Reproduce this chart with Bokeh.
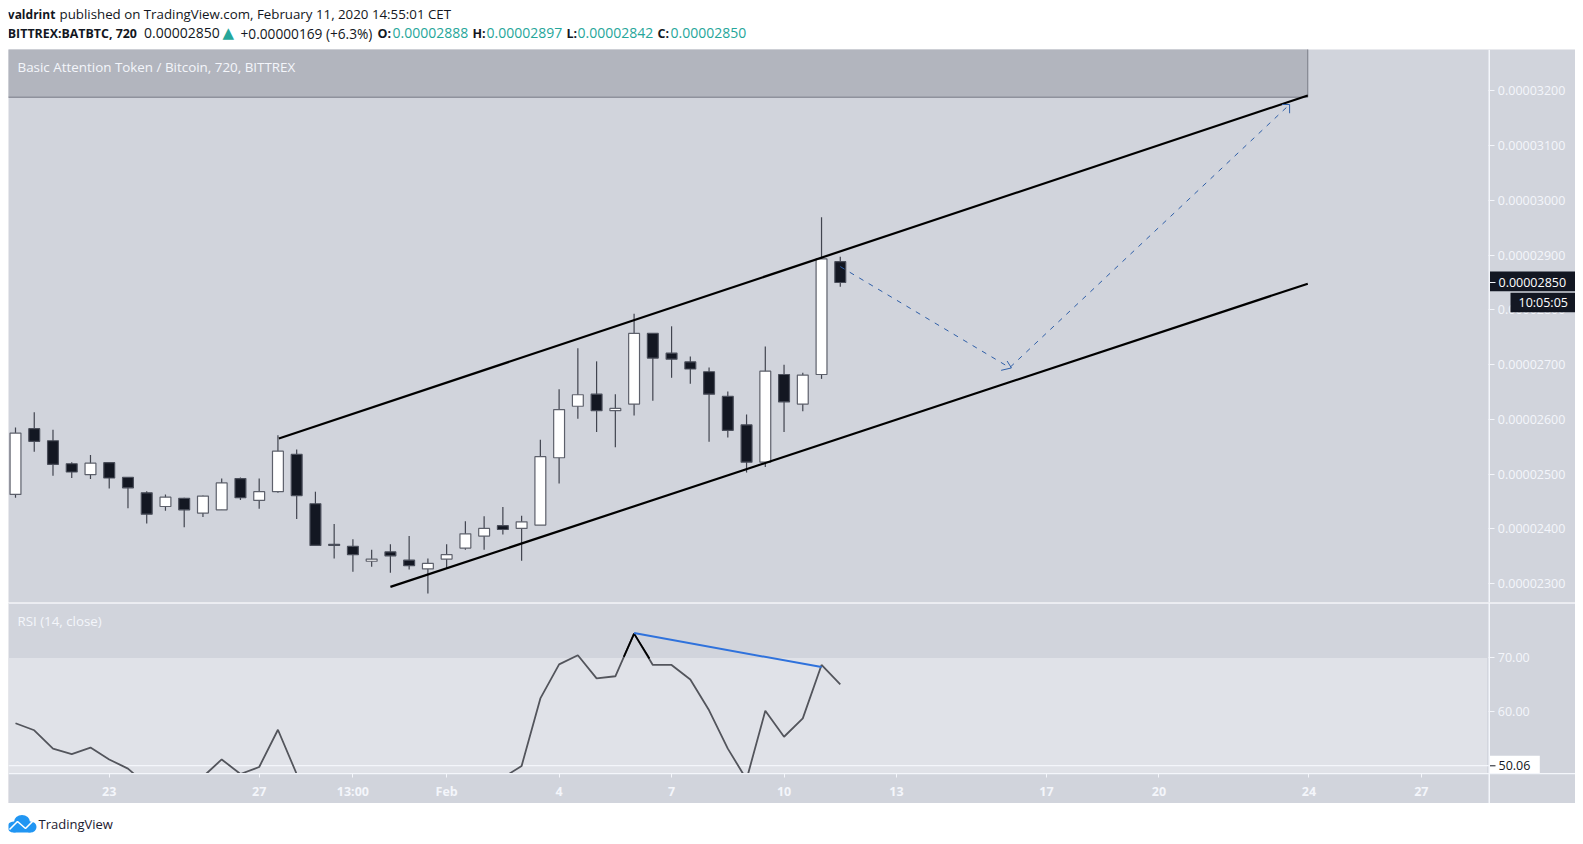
from bokeh.embed import file_html
from bokeh.resources import INLINE
from bokeh.layouts import column
from bokeh.models import BoxAnnotation, Label, FixedTicker, PrintfTickFormatter, Range1d, LinearAxis
from bokeh.plotting import figure
import numpy as np

BG = "#d1d4dc"
WHITE = "#f4f6fb"
FONT = "Open Sans"

# ---- candles (price in 1e-8 BTC) ----
opens = [2463,2583,2561,2519,2499,2521,2494,2466,2441,2456,2429,2435,2492,2452,2468,2536,2446,2372,2368,2341,2358,2343,2327,2345,2365,2387,2406,2401,2407,2530,2624,2646,2616,2628,2757,2721,2705,2687,2642,2590,2522,2682,2628,2682,2888]
highs = [2585,2613,2581,2522,2535,2521,2494,2469,2463,2457,2461,2492,2494,2492,2571,2545,2468,2409,2381,2362,2372,2387,2346,2372,2414,2423,2440,2424,2563,2655,2730,2706,2646,2793,2757,2770,2715,2695,2651,2609,2733,2700,2685,2969,2897]
lows = [2457,2541,2497,2493,2491,2474,2438,2410,2433,2403,2422,2435,2453,2437,2466,2418,2369,2346,2322,2331,2320,2326,2282,2328,2362,2362,2390,2342,2407,2483,2601,2577,2549,2607,2634,2676,2665,2559,2567,2503,2513,2577,2615,2674,2842]
closes = [2575,2560,2518,2504,2520,2493,2475,2427,2458,2435,2460,2484,2457,2468,2542,2461,2370,2370,2353,2345,2351,2333,2337,2353,2391,2401,2399,2413,2532,2618,2645,2616,2620,2757,2712,2710,2692,2646,2580,2522,2688,2632,2681,2893,2850]

# ---- RSI ----
rsi = [57.9,56.6,53.2,52.2,53.4,51.2,49.5,46.5,45.5,46.0,48.0,51.2,48.5,49.8,56.7,48.5,41.5,41.0,40.0,40.5,39.5,39.5,39.0,40.0,42.0,43.5,47.8,50.0,62.5,68.8,70.5,66.2,66.6,74.5,68.7,68.7,66.0,60.3,53.2,47.5,60.2,55.4,58.8,68.7,65.1]
rsi_peak_idx = [32.45,33,33.82]
rsi_peak_val = [70.2,74.5,69.9]
rsi_div_idx = [33,43]
rsi_div_val = [74.6,68.3]

# ---- drawings (bar index, price) ----
upper_idx = [14.05,68.94]
upper_px = [2565,3191.4]
lower_idx = [20.0,68.94]
lower_px = [2294.3,2847.8]
path_idx = [44,53.04,67.97]
path_px = [2879,2694.5,3175]
head_idx = [[52.9,53.13,52.58],[67.57,67.97,67.97]]
head_px = [[2706.6,2694,2689.6],[3175,3175,3159]]
zone_idx = [-1,68.94]
zone_px = [3188.3,3400]

# ---- ticks ----
price_ticks = [2300,2400,2500,2600,2700,2800,2900,3000,3100,3200]
rsi_ticks = [60,70]
time_pos = [5,13,18,23,29,35,41,47,55,61,69,75]
time_lab = ["23","27","13:00","Feb","4","7","10","13","17","20","24","27"]

# ---- header ----
head_x = [7.3,59,7.3,143.5,222,240,377,392,472,486,566,577,657,670]
head_y = [13.7,13.7,32.6,32.6,32.2,32.6,32.6,32.6,32.6,32.6,32.6,32.6,32.6,32.6]
head_txt = ["valdrint","published on TradingView.com, February 11, 2020 14:55:01 CET","BITTREX:BATBTC, 720","0.00002850","▲","+0.00000169 (+6.3%)","O:","0.00002888","H:","0.00002897","L:","0.00002842","C:","0.00002850"]
head_bold = [1,0,1,0,0,0,1,0,1,0,1,0,1,0]
head_col = ["#131722","#131722","#131722","#131722","#26a69a","#131722","#131722","#26a69a","#131722","#26a69a","#131722","#26a69a","#131722","#26a69a"]
head_size = ["12px","13.3px","12.4px","14px","15px","13.7px","12.5px","14px","12.5px","14px","12.5px","14px","12.5px","14px"]
head_font = [FONT,FONT,FONT,FONT,"DejaVu Sans",FONT,FONT,FONT,FONT,FONT,FONT,FONT,FONT,FONT]

W = 1567
STEP = 18.745
X0 = (8-15)/STEP
X1 = (1575-15)/STEP
AX_IDX = (1488.3-15)/STEP
E8 = 1e-8


def base(h, yr):
    p = figure(width=W, height=h, output_backend="svg", toolbar_location=None,
               x_range=Range1d(X0, X1), y_range=yr, x_axis_location=None, y_axis_location=None,
               min_border=0, background_fill_color=BG, border_fill_color=BG, outline_line_color=None)
    p.grid.visible = False
    ya = LinearAxis(fixed_location=AX_IDX)
    ya.axis_line_color = None
    ya.major_tick_line_color = WHITE
    ya.minor_tick_line_color = None
    ya.major_tick_in = 0
    ya.major_tick_out = 6
    ya.major_label_standoff = 3
    ya.major_label_text_color = WHITE
    ya.major_label_text_font = FONT
    ya.major_label_text_font_size = "12.5px"
    p.add_layout(ya, "right")
    return p, ya


def canvas_box(p, l, r, t, b, col):
    p.add_layout(BoxAnnotation(left=l, right=r, top=t, bottom=b, left_units="canvas", right_units="canvas",
                               top_units="canvas", bottom_units="canvas", fill_color=col, fill_alpha=1,
                               line_color=None))


def axis_text(p, x, y, txt, col):
    p.add_layout(Label(x=x, y=y, x_units="canvas", y_units="canvas", text=txt, text_color=col,
                       text_font=FONT, text_font_size="12.5px", text_baseline="middle", text_align="left"))


# ---------- header ----------
hd = figure(width=W, height=49, output_backend="svg", toolbar_location=None, x_range=Range1d(8, 1575),
            y_range=Range1d(49, 0), x_axis_location=None, y_axis_location=None, min_border=0,
            background_fill_color="white", border_fill_color="white", outline_line_color=None)
hd.grid.visible = False
for x, y, t, b, c, s, f in zip(head_x, head_y, head_txt, head_bold, head_col, head_size, head_font):
    hd.add_layout(Label(x=x, y=y, text=t, text_color=c, text_font=f, text_font_size=s,
                        text_font_style="bold" if b else "normal", text_baseline="middle"))

# ---------- price pane ----------
pr, pr_y = base(553, Range1d(2265.7*E8, 3275.4*E8))
pr_y.ticker = FixedTicker(ticks=[v*E8 for v in price_ticks])
pr_y.formatter = PrintfTickFormatter(format="%.8f")

pr.quad(left=[zone_idx[0]], right=[zone_idx[1]], bottom=[zone_px[0]*E8], top=[zone_px[1]*E8],
        fill_color="#b2b5be", line_color="#787b86", line_width=1)

idx = np.arange(len(opens))
o, h_, l_, c_ = [np.array(a)*E8 for a in (opens, highs, lows, closes)]
pr.segment(idx, h_, idx, l_, line_color="#41444f", line_width=1.2)
up = c_ >= o
body_top = np.maximum(o, c_)
body_bot = np.minimum(o, c_)
pr.vbar(idx[up], 0.58, body_bot[up], body_top[up], fill_color="white", line_color="#5d606b", line_width=1.2)
pr.vbar(idx[~up], 0.58, body_bot[~up], body_top[~up], fill_color="#131722", line_color="#4a4e5a", line_width=1.2)

pr.line(upper_idx, [v*E8 for v in upper_px], line_color="black", line_width=2.2)
pr.line(lower_idx, [v*E8 for v in lower_px], line_color="black", line_width=2.2)
pr.line(path_idx, [v*E8 for v in path_px], line_color="#2f5fa8", line_width=1, line_dash=[5, 6])
pr.multi_line(head_idx, [[v*E8 for v in s] for s in head_px], line_color="#2f5fa8", line_width=1)

pr.add_layout(Label(x=9, y=17, x_units="canvas", y_units="canvas", text="Basic Attention Token / Bitcoin, 720, BITTREX",
                    text_color=WHITE, text_font=FONT, text_font_size="13.4px", text_baseline="middle"))

canvas_box(pr, 1480, 1481.5, 0, 553, WHITE)
canvas_box(pr, 1481.5, 1567, 222, 241.7, "#131722")
canvas_box(pr, 1481.5, 1487, 232.5, 233.5, WHITE)
axis_text(pr, 1490, 232.5, "0.00002850", "white")
canvas_box(pr, 1502, 1567, 243.3, 262.7, "#131722")
axis_text(pr, 1510, 253, "10:05:05", "white")

# ---------- RSI pane ----------
RSI_FLOOR = 48.65
rs, rs_y = base(201, Range1d(43.04, 80.26))
rs_y.ticker = FixedTicker(ticks=rsi_ticks)
rs_y.formatter = PrintfTickFormatter(format="%.2f")

rs.quad(left=[X0], right=[78.51], top=[70], bottom=[RSI_FLOOR], fill_color="#e0e2e8", line_color=None)
rs.segment([X0], [50.06], [AX_IDX], [50.06], line_color=WHITE, line_width=1.3)
rs.line(idx, rsi, line_color="#53555c", line_width=1.8)
rs.line(rsi_peak_idx, rsi_peak_val, line_color="black", line_width=1.8)
rs.line(rsi_div_idx, rsi_div_val, line_color="#2f72dc", line_width=2)
# time-axis strip hides whatever the RSI does below the pane
rs.quad(left=[X0], right=[X1], top=[RSI_FLOOR], bottom=[30], fill_color=BG, line_color=None)

xa = LinearAxis(fixed_location=RSI_FLOOR)
xa.ticker = FixedTicker(ticks=time_pos)
xa.major_label_overrides = dict(zip(time_pos, time_lab))
xa.axis_line_color = None
xa.major_tick_line_color = WHITE
xa.minor_tick_line_color = None
xa.major_tick_in = 0
xa.major_tick_out = 4
xa.major_label_standoff = 6
xa.major_label_text_color = WHITE
xa.major_label_text_font = FONT
xa.major_label_text_font_size = "12.5px"
xa.major_label_text_font_style = "bold"
rs.add_layout(xa, "below")

rs.add_layout(Label(x=9, y=18.5, x_units="canvas", y_units="canvas", text="RSI (14, close)",
                    text_color=WHITE, text_font=FONT, text_font_size="13.3px", text_baseline="middle"))
canvas_box(rs, 0, W, 0, 1.3, WHITE)
canvas_box(rs, 0, W, 170.5, 171.8, WHITE)
canvas_box(rs, 1480, 1481.5, 0, 201, WHITE)
canvas_box(rs, 1481.5, 1531.3, 153.3, 170.5, "white")
canvas_box(rs, 1481.5, 1487, 162.8, 163.8, "#131722")
axis_text(rs, 1490, 163.2, "50.06", "#131722")

# ---------- footer ----------
ft = figure(width=W, height=33, output_backend="svg", toolbar_location=None, x_range=Range1d(8, 1575),
            y_range=Range1d(836, 803), x_axis_location=None, y_axis_location=None, min_border=0,
            background_fill_color="white", border_fill_color="white", outline_line_color=None)
ft.grid.visible = False
LOGO = "#2196f3"
ft.ellipse([13, 21.5, 30], [826.5, 821.5, 826.5], [12, 16, 12], [11, 14, 11], fill_color=LOGO, line_color=None)
ft.quad(left=[13], right=[30], top=[826], bottom=[832], fill_color=LOGO, line_color=None)
ft.line([9, 17, 25, 33], [829, 821, 828, 820], line_color="white", line_width=1.6)
ft.add_layout(Label(x=38, y=823, text="TradingView", text_color="#1c2030", text_font=FONT,
                    text_font_size="13px", text_baseline="middle"))

page = column(hd, pr, rs, ft, spacing=0, margin=(0, 0, 0, 8))
open("out.html", "w").write(file_html(page, INLINE))
